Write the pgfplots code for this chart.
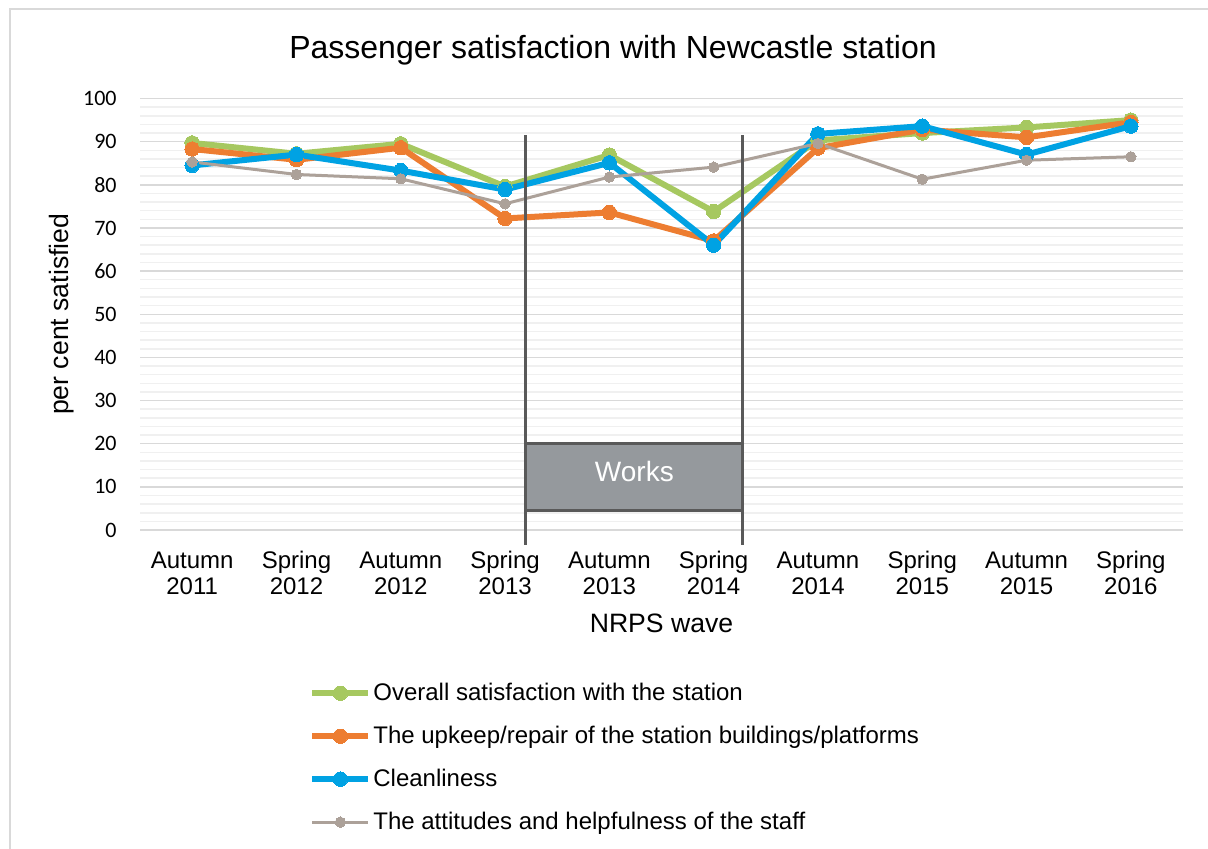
\documentclass[border=0pt]{standalone}
\usepackage{pgfplots}
\pgfplotsset{compat=1.18}
\usepackage{fontspec}
\setmainfont{Liberation Sans}
\newfontfamily\calibri{Carlito}
\definecolor{cGreen}{RGB}{166,200,96}
\definecolor{cOrange}{RGB}{237,125,49}
\definecolor{cBlue}{RGB}{0,162,227}
\definecolor{cGrey}{RGB}{172,161,153}
\definecolor{cMajor}{RGB}{217,217,217}
\definecolor{cMinor}{RGB}{240,240,240}
\definecolor{cWorks}{RGB}{149,153,157}
\definecolor{cEdge}{RGB}{89,89,89}
\newcommand\tl[2]{\strut#1\\\strut#2}
\begin{document}
\begin{tikzpicture}
\useasboundingbox (0pt,0pt) rectangle (604pt,-424pt);
\fill[white] (0pt,0pt) rectangle (604pt,-424pt);
\draw[cMajor, line width=1pt] (4.75pt,-4.25pt) rectangle (610pt,-430pt);
\node[anchor=base, font=\fontsize{16}{19}\selectfont] at (306.5pt,-29pt) {Passenger satisfaction with Newcastle station};
\begin{axis}[
  at={(70pt,-265pt)}, anchor=south west,
  scale only axis, width=521.5pt, height=215.75pt,
  xmin=-0.5, xmax=9.5, ymin=0, ymax=100,
  clip=false,
  axis line style={draw=none},
  major tick length=0pt, minor tick length=0pt,
  xtick={0,...,9},
  xticklabels={{\tl{Autumn}{2011}},{\tl{Spring}{2012}},{\tl{Autumn}{2012}},{\tl{Spring}{2013}},{\tl{Autumn}{2013}},{\tl{Spring}{2014}},{\tl{Autumn}{2014}},{\tl{Spring}{2015}},{\tl{Autumn}{2015}},{\tl{Spring}{2016}}},
  xticklabel style={align=center, inner sep=0pt, anchor=north, yshift=-9.9pt, font=\fontsize{12}{13}\selectfont},
  ytick={0,10,...,100},
  minor y tick num=4,
  ymajorgrids, yminorgrids,
  major grid style={cMajor, line width=0.75pt},
  minor grid style={cMinor, line width=0.75pt},
  /pgf/number format/assume math mode=true,
  yticklabel style={anchor=east, inner sep=0pt, xshift=-11.5pt, font=\calibri\fontsize{11}{13}\selectfont},
  xlabel={NRPS wave},
  xlabel style={at={(axis description cs:0.5,-0.2364)}, anchor=base, font=\fontsize{13.3}{15}\selectfont},
  ylabel={per cent satisfied},
  ylabel style={at={(axis description cs:-0.0748,0.5)}, anchor=center, font=\fontsize{13.3}{15}\selectfont},
  legend style={at={(axis description cs:0.162,-0.349)}, anchor=north west, draw=none, fill=none, inner sep=0pt, row sep=9.3pt, font=\fontsize{12}{14}\selectfont, nodes={inner sep=1pt}},
  legend cell align=left,
  legend image code/.code={\draw[mark repeat=2, mark phase=2, #1] plot coordinates {(0pt,0pt) (14pt,0pt) (28pt,0pt)};},
]
\addplot[cGreen, line width=3pt, mark=*, mark size=3.6pt, mark options={solid, fill=cGreen, draw=cGreen, line width=0pt}] coordinates {
(0,89.7) (1,87.2) (2,89.5) (3,79.6) (4,86.9) (5,73.8) (6,90.3) (7,92.0) (8,93.3) (9,95.0)};
\addlegendentry{Overall satisfaction with the station}
\addplot[cOrange, line width=3pt, mark=*, mark size=3.6pt, mark options={solid, fill=cOrange, draw=cOrange, line width=0pt}] coordinates {
(0,88.3) (1,85.8) (2,88.6) (3,72.2) (4,73.6) (5,67.0) (6,88.5) (7,92.8) (8,91.0) (9,94.5)};
\addlegendentry{The upkeep/repair of the station buildings/platforms}
\addplot[cBlue, line width=3pt, mark=*, mark size=3.6pt, mark options={solid, fill=cBlue, draw=cBlue, line width=0pt}] coordinates {
(0,84.5) (1,87.0) (2,83.3) (3,78.9) (4,85.1) (5,66.0) (6,91.8) (7,93.6) (8,87.0) (9,93.6)};
\addlegendentry{Cleanliness}
\addplot[cGrey, line width=1.5pt, mark=*, mark size=2.6pt, mark options={solid, fill=cGrey, draw=cGrey, line width=0pt}] coordinates {
(0,85.3) (1,82.4) (2,81.4) (3,75.6) (4,81.8) (5,84.1) (6,89.6) (7,81.3) (8,85.7) (9,86.5)};
\addlegendentry{The attitudes and helpfulness of the staff}
\draw[cEdge, line width=1.5pt, fill=cWorks] (axis cs:3.20,4.6) rectangle (axis cs:5.28,20.1);
\node[white, font=\fontsize{14}{16}\selectfont] at (axis cs:4.24,13.6) {Works};
\draw[cEdge, line width=1.5pt] (axis cs:3.20,91.5) -- (axis cs:3.20,-3.5);
\draw[cEdge, line width=1.5pt] (axis cs:5.28,91.5) -- (axis cs:5.28,-3.5);
\end{axis}
\end{tikzpicture}
\end{document}
